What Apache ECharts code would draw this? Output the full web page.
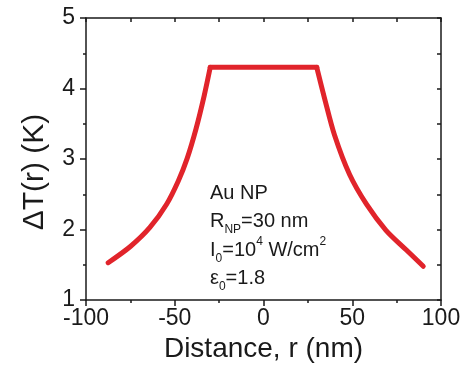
<!DOCTYPE html>
<html>
<head>
<meta charset="utf-8">
<script src="https://cdn.jsdelivr.net/npm/echarts@6/dist/echarts.min.js"></script>
<style>
  html, body { margin: 0; padding: 0; background: #fff; }
  #chart { width: 464px; height: 368px; }
</style>
</head>
<body>
<div id="chart"></div>
<script>
// values
var distance = [-87.5, -75, -64, -54.6, -48, -43, -38, -33.4, -30,
                30, 34.5, 40, 48.5, 58, 69, 80.5, 90];
var deltaT = [1.53, 1.76, 2.03, 2.36, 2.69, 3.01, 3.43, 3.90, 4.30,
              4.30, 3.85, 3.34, 2.78, 2.36, 1.99, 1.71, 1.48];
var noteLines = ['Au NP', '{a|R}{sub|NP}{a|=30 nm}', '{a|I}{sub|0}{a|=10}{sup|4}{a| W/cm}{sup|2}', '{a|ε}{sub|0}{a|=1.8}'];

var font = 'Liberation Sans, Arial, sans-serif';
var ink = '#1a1a1a';
var red = '#e1242b';

var seriesData = [];
for (var i = 0; i < distance.length; i++) {
    seriesData.push([distance[i], deltaT[i]]);
}
// split at the particle surface so the corners stay sharp
var edgeL = distance.indexOf(-30);
var edgeR = distance.indexOf(30);
var leftPart = seriesData.slice(0, edgeL + 1);
var plateau = seriesData.slice(edgeL, edgeR + 1);
var rightPart = seriesData.slice(edgeR);

function curve(data, smooth) {
    return {
        type: 'line', xAxisIndex: 0, yAxisIndex: 0,
        data: data,
        showSymbol: false, smooth: smooth,
        lineStyle: { color: red, width: 5, cap: 'round', join: 'round' }
    };
}

var myChart = echarts.init(document.getElementById('chart'), null, { renderer: 'canvas' });
var option = {
    animation: false,
    backgroundColor: '#fff',
    grid: { left: 86, right: 23, top: 18, bottom: 64, containLabel: false },
    xAxis: [{
        type: 'value', position: 'bottom', min: -100, max: 100, interval: 50,
        axisLine: { onZero: false, lineStyle: { color: ink, width: 1.5 } },
        axisTick: { inside: false, length: 6, lineStyle: { color: ink, width: 1.5 } },
        minorTick: { show: true, splitNumber: 2, length: 3, lineStyle: { color: ink, width: 1.5 } },
        splitLine: { show: false },
        axisLabel: { fontFamily: font, fontSize: 23, color: ink, margin: 7 },
        name: 'Distance, r (nm)', nameLocation: 'middle', nameGap: 28,
        nameTextStyle: { fontFamily: font, fontSize: 28, color: ink }
    }, {
        type: 'value', position: 'top', min: -100, max: 100, interval: 25,
        axisLine: { onZero: false, lineStyle: { color: ink, width: 1.5 } },
        axisTick: { inside: true, length: 4, lineStyle: { color: ink, width: 1.5 } },
        splitLine: { show: false },
        axisLabel: { show: false }
    }],
    yAxis: [{
        type: 'value', position: 'left', min: 1, max: 5, interval: 1,
        axisLine: { show: true, onZero: false, lineStyle: { color: ink, width: 1.5 } },
        axisTick: { show: true, inside: false, length: 6, lineStyle: { color: ink, width: 1.5 } },
        minorTick: { show: true, splitNumber: 2, length: 3, lineStyle: { color: ink, width: 1.5 } },
        splitLine: { show: false },
        axisLabel: { fontFamily: font, fontSize: 23, color: ink, margin: 11 }
    }, {
        type: 'value', position: 'right', min: 1, max: 5, interval: 0.5,
        axisLine: { show: true, onZero: false, lineStyle: { color: ink, width: 1.5 } },
        axisTick: { show: true, inside: true, length: 4, lineStyle: { color: ink, width: 1.5 } },
        splitLine: { show: false },
        axisLabel: { show: false }
    }],
    graphic: [{
        type: 'text', x: 35, y: 172, rotation: Math.PI / 2,
        style: { text: 'ΔT(r) (K)', fontFamily: font, fontSize: 30, fill: ink, align: 'center', verticalAlign: 'middle' }
    }, {
        type: 'text', x: 210, y: 179,
        style: {
            text: noteLines.join('\n'),
            fontFamily: font, fontSize: 20, fill: ink, lineHeight: 28.5,
            rich: {
                a: { fontFamily: font, fontSize: 20, fill: ink, lineHeight: 28.5 },
                sub: { fontFamily: font, fontSize: 12, fill: ink, lineHeight: 12, verticalAlign: 'bottom' },
                sup: { fontFamily: font, fontSize: 12, fill: ink, lineHeight: 18, verticalAlign: 'top' }
            }
        }
    }],
    series: [curve(leftPart, 0.3), curve(plateau, false), curve(rightPart, 0.3)]
};
myChart.setOption(option);
</script>
</body>
</html>
